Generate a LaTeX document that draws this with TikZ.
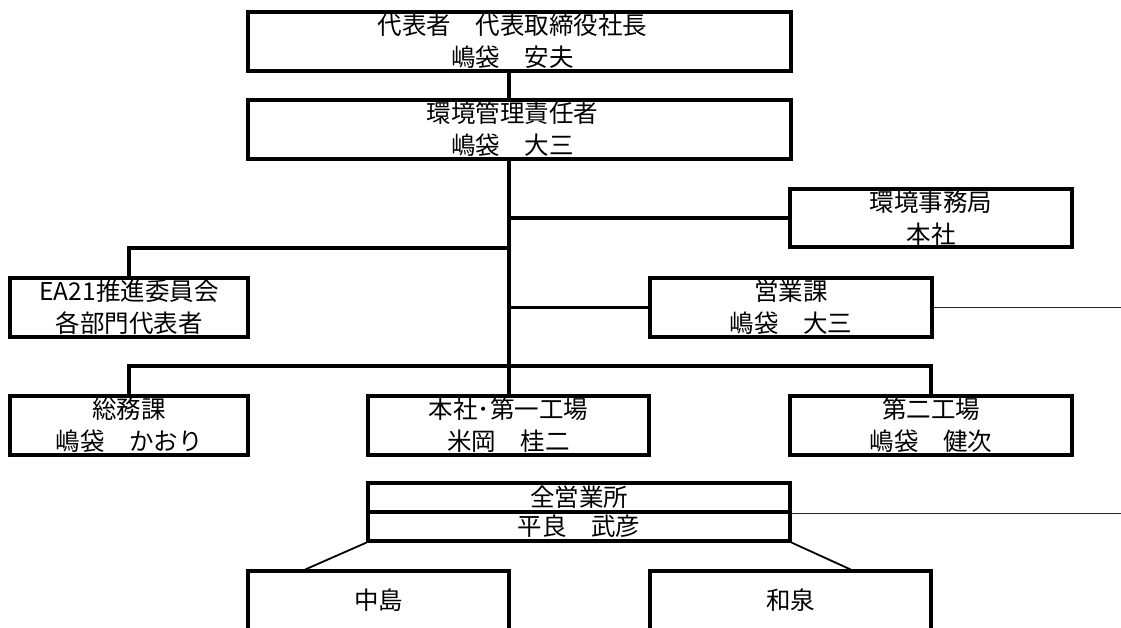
\documentclass[tikz,border=0pt]{standalone}
\usepackage{fontspec}
\setmainfont{Noto Sans CJK JP}
\begin{document}
\begin{tikzpicture}[x=1pt,y=-1pt,
  box/.style={draw=black, line width=3.2pt, inner sep=0pt, align=center,
    font=\fontsize{24.5pt}{32pt}\selectfont},
  link/.style={draw=black, line width=3.2pt},
  thinlink/.style={draw=black!85, line width=1.7pt},
  diag/.style={draw=black, line width=1.8pt}]
\useasboundingbox (0,0) rectangle (1121,628);
\fill[white] (0,0) rectangle (1121,628);
\clip (0,0) rectangle (1121,628);

\coordinate (sp) at (509,0);
\coordinate (edge) at (1121,0);
\coordinate (j1) at (509,248);
\coordinate (j3) at (509,366);

\node[box, minimum width=543pt, minimum height=59pt] (A) at (519.5,41.5)
  {代表者　代表取締役社長\hspace*{14pt}\\嶋袋　安夫\hspace*{14pt}};
\node[box, minimum width=543pt, minimum height=59pt] (B) at (519.5,129.5)
  {環境管理責任者\hspace*{14pt}\\嶋袋　大三\hspace*{14pt}};
\node[box, minimum width=282pt, minimum height=58pt] (C) at (931,218)
  {環境事務局\\本社};
\node[box, minimum width=238pt, minimum height=59pt] (D) at (129,307.5)
  {EA21推進委員会\\各部門代表者};
\node[box, minimum width=282pt, minimum height=59pt] (E) at (791,307.5)
  {営業課\\嶋袋　大三};
\node[box, minimum width=238pt, minimum height=59pt] (F) at (129,425.5)
  {総務課\\嶋袋　かおり};
\node[box, minimum width=281pt, minimum height=59pt] (G) at (508.5,425.5)
  {本社･第一工場\\米岡　桂二};
\node[box, minimum width=282pt, minimum height=59pt] (H) at (931,425.5)
  {第二工場\\嶋袋　健次};
\node[box, minimum width=422pt, minimum height=29pt] (I1) at (579,497.5)
  {全営業所};
\node[box, minimum width=422pt, minimum height=29pt] (I2) at (579,526.5)
  {平良　武彦};
\node[box, minimum width=261pt, minimum height=59pt] (J) at (378.5,600.5)
  {中島};
\node[box, minimum width=281pt, minimum height=59pt] (K) at (790.5,600.5)
  {和泉};

\draw[link] (A.south -| sp) -- (B.north -| sp);
\draw[link] (B.south -| sp) -- (j3);
\draw[link] (sp |- C.west) -- (C.west);
\draw[link] (j1) -| (D.north);
\draw[link] (sp |- E.west) -- (E.west);
\draw[link] (F.north) |- (H.north |- j3) -- (H.north);
\draw[link] (j3) -- (G.north -| sp);
\draw[thinlink] (E.east) -- (E.east -| edge);
\draw[thinlink] (I1.south east) -- (I1.south east -| edge);
\draw[diag] (I2.south west) -- ([xshift=59pt]J.north west);
\draw[diag] (I2.south east) -- ([xshift=202pt]K.north west);
\end{tikzpicture}
\end{document}
